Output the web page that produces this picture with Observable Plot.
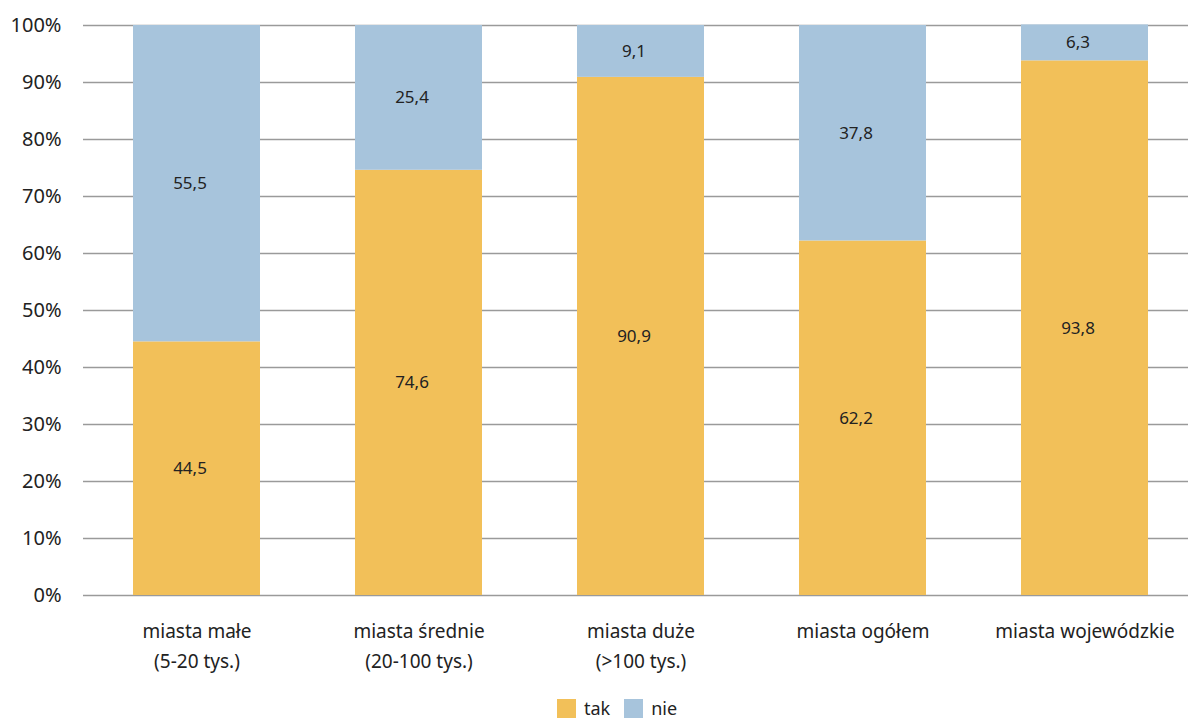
<!DOCTYPE html>
<html>
<head>
<meta charset="utf-8">
<script src="https://cdn.jsdelivr.net/npm/d3@7"></script>
<script src="https://cdn.jsdelivr.net/npm/@observablehq/plot@0.6"></script>
<style>
  html, body { margin: 0; padding: 0; background: #fff; overflow: hidden; }
  #wrap { position: relative; width: 1188px; height: 722px; overflow: hidden; }
  #chart svg { max-width: none !important; display: block; }
  #legend { position: absolute; left: 557px; top: 699px; display: flex; align-items: center;
            font-family: "Noto Sans", sans-serif; font-size: 18px; color: #222; line-height: 19px; }
  #legend .sw { width: 19px; height: 19px; display: inline-block; margin-right: 8px; }
  #legend .item { display: flex; align-items: center; margin-right: 14px; }
</style>
</head>
<body>
<div id="wrap"><div id="chart"></div><div id="legend"></div></div>
<script>
// Categories (city size groups), two-line labels
const categories = [
  "miasta małe\n(5-20 tys.)",
  "miasta średnie\n(20-100 tys.)",
  "miasta duże\n(>100 tys.)",
  "miasta ogółem",
  "miasta wojewódzkie"
];
// Share of answers, in percent
const tak = [44.5, 74.6, 90.9, 62.2, 93.8];
const nie = [55.5, 25.4, 9.1, 37.8, 6.3];
const seriesNames = ["tak", "nie"];
const seriesColors = ["#F2C059", "#A7C4DC"];
const yTicks = [0, 10, 20, 30, 40, 50, 60, 70, 80, 90, 100];

const rows = [];
categories.forEach((c, i) => {
  rows.push({cat: c, answer: "tak", value: tak[i]});
  rows.push({cat: c, answer: "nie", value: nie[i]});
});

const fmt = v => v.toFixed(1).replace(".", ",");

const chart = Plot.plot({
  width: 1197,
  height: 690,
  marginLeft: 83,
  marginRight: 0,
  marginTop: 25,
  marginBottom: 95,
  style: {fontFamily: "'Noto Sans', sans-serif", fontSize: "18px", color: "#222", background: "#fff", maxWidth: "none"},
  x: {domain: categories, paddingInner: 0.43, paddingOuter: 0.215, label: null},
  y: {domain: [0, 100], label: null},
  color: {domain: seriesNames, range: seriesColors},
  marks: [
    Plot.ruleY(yTicks, {stroke: "#9a9a9a", strokeWidth: 1.5, strokeOpacity: 1}),
    Plot.barY(rows, Plot.stackY({x: "cat", y: "value", z: "answer", fill: "answer", order: seriesNames})),
    Plot.text(rows, Plot.stackY({x: "cat", y: "value", z: "answer", order: seriesNames,
      text: d => fmt(d.value), fill: "#222", fontSize: 17, dx: -7})),
    Plot.axisY(yTicks, {tickSize: 0, tickPadding: 22, tickFormat: d => d + "%", fontSize: 20, fill: "#222"}),
    Plot.axisX({tickSize: 0, tickPadding: 21, lineHeight: 1.58, fontSize: 19, fill: "#222"})
  ]
});
document.getElementById("chart").appendChild(chart);

// Legend
const legend = document.getElementById("legend");
seriesNames.forEach((name, i) => {
  const item = document.createElement("span");
  item.className = "item";
  const sw = document.createElement("span");
  sw.className = "sw";
  sw.style.background = seriesColors[i];
  item.appendChild(sw);
  item.appendChild(document.createTextNode(name));
  legend.appendChild(item);
});
</script>
</body>
</html>
